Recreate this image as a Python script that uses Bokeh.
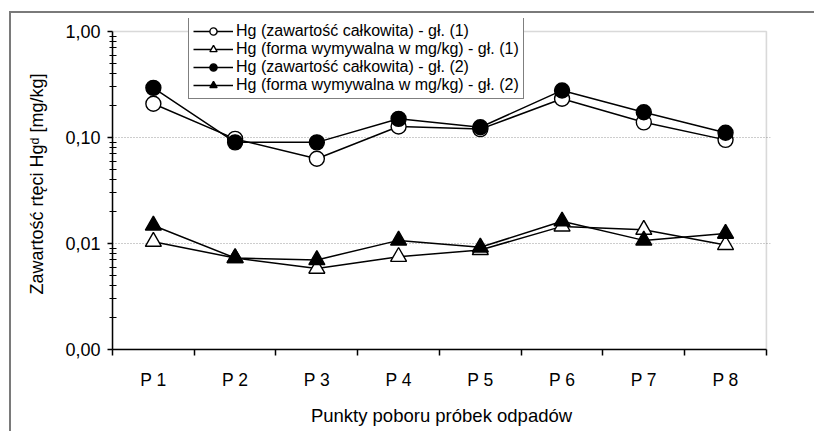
from bokeh.plotting import figure
from bokeh.models import (FixedTicker, CustomJSTickFormatter, Legend, LegendItem,
                          BoxAnnotation, Range1d)
from bokeh.embed import file_html
from bokeh.resources import INLINE

# ---- data ----
points = ["P 1", "P 2", "P 3", "P 4", "P 5", "P 6", "P 7", "P 8"]
hg_total_1 = [0.208, 0.097, 0.063, 0.127, 0.120, 0.232, 0.139, 0.095]
hg_leach_1 = [0.0104, 0.0073, 0.0058, 0.0075, 0.0087, 0.0145, 0.0135, 0.0097]
hg_total_2 = [0.294, 0.090, 0.090, 0.150, 0.125, 0.278, 0.173, 0.111]
hg_leach_2 = [0.0148, 0.0073, 0.0070, 0.0107, 0.0092, 0.0162, 0.0107, 0.0124]
series_labels = [
    "Hg (zawartość całkowita) - gł. (1)",
    "Hg (forma wymywalna w mg/kg) - gł. (1)",
    "Hg (zawartość całkowita) - gł. (2)",
    "Hg (forma wymywalna w mg/kg) - gł. (2)",
]
y_ticks = [0.001, 0.01, 0.1, 1.0]
y_minor = [k * 10.0 ** e for e in (-3, -2, -1) for k in range(2, 10)]
x_title = "Punkty poboru próbek odpadów"
y_title = "Zawartość rtęci Hgᵈ [mg/kg]"

FONT = "Liberation Sans"
xs = [i + 0.5 for i in range(len(points))]

p = figure(width=805, height=420,
           x_range=Range1d(0, len(points) + 0.05),
           y_range=Range1d(y_ticks[0], 10 ** (13 / 106)), y_axis_type="log",
           output_backend="svg", toolbar_location=None,
           min_border_left=101, min_border_right=46,
           min_border_top=5, min_border_bottom=84,
           background_fill_color="white", border_fill_color="white")
# outer frame of the figure (left and top edges are visible in the reference)
p.styles = {"margin-left": "9px", "margin-top": "11px",
            "border-left": "2px solid #7a7a7a", "border-top": "2px solid #7a7a7a"}

p.outline_line_color = None

# grid
p.xgrid.visible = False
p.ygrid.ticker = FixedTicker(ticks=[0.01, 0.1])
p.ygrid.grid_line_color = "#9a9a9a"
p.ygrid.grid_line_dash = "1 2"
p.ygrid.grid_line_width = 1

# plot-area border (grey, top and right)
plot_box = BoxAnnotation(left=0, right=len(points), bottom=y_ticks[0], top=y_ticks[-1],
                         fill_alpha=0, line_color="#808080", line_width=1.6,
                         level="underlay")
p.add_layout(plot_box)

# x axis
xa = p.xaxis[0]
xa.ticker = FixedTicker(ticks=xs, minor_ticks=list(range(len(points) + 1)))
xa.formatter = CustomJSTickFormatter(args=dict(labels=points),
                                     code="return labels[Math.floor(tick)]")
xa.bounds = (0, len(points))
xa.major_tick_out = 0
xa.major_tick_in = 0
xa.minor_tick_out = 6
xa.minor_tick_in = 0
xa.minor_tick_line_color = "black"
xa.minor_tick_line_width = 1.5
xa.axis_line_color = "black"
xa.axis_line_width = 1.5
xa.major_label_standoff = 14
xa.major_label_text_font = FONT
xa.major_label_text_font_size = "17.5px"
xa.major_label_text_color = "black"
xa.axis_label = x_title
xa.axis_label_text_font = FONT
xa.axis_label_text_font_size = "18.5px"
xa.axis_label_text_font_style = "normal"
xa.axis_label_text_color = "black"
xa.axis_label_standoff = 12

# y axis
ya = p.yaxis[0]
ya.ticker = FixedTicker(ticks=y_ticks, minor_ticks=y_minor)
ya.formatter = CustomJSTickFormatter(code="return tick.toFixed(2).replace('.', ',')")
ya.bounds = (y_ticks[0], y_ticks[-1])
ya.major_tick_out = 5
ya.major_tick_in = 0
ya.minor_tick_out = 3
ya.minor_tick_in = 4
ya.major_tick_line_color = "black"
ya.minor_tick_line_color = "black"
ya.major_tick_line_width = 1.5
ya.minor_tick_line_width = 1.2
ya.axis_line_color = "black"
ya.axis_line_width = 1.5
ya.major_label_standoff = 7
ya.major_label_text_font = FONT
ya.major_label_text_font_size = "18px"
ya.major_label_text_color = "black"
ya.axis_label = y_title
ya.axis_label_text_font = FONT
ya.axis_label_text_font_size = "18px"
ya.axis_label_text_font_style = "normal"
ya.axis_label_text_color = "black"
ya.axis_label_standoff = 15

# series
specs = [
    (hg_total_1, "circle", "white", 15),
    (hg_leach_1, "triangle", "white", 16),
    (hg_total_2, "circle", "black", 15),
    (hg_leach_2, "triangle", "black", 16),
]
items = []
for (vals, marker, fill, size), lab in zip(specs, series_labels):
    lr = p.line(xs, vals, line_color="black", line_width=1.5)
    sr = p.scatter(xs, vals, marker=marker, size=size, fill_color=fill,
                   line_color="black", line_width=1.4)
    items.append(LegendItem(label=lab, renderers=[lr, sr]))

legend = Legend(items=items, location=(76, 250), orientation="vertical",
                label_text_font=FONT, label_text_font_size="16px",
                label_text_color="black", label_standoff=3,
                glyph_width=40, glyph_height=18, label_height=18,
                spacing=0, padding=4, margin=0,
                border_line_color="black", border_line_width=1.2,
                background_fill_color="white", background_fill_alpha=1.0)
p.add_layout(legend)

open("out.html", "w").write(file_html(p, INLINE))
